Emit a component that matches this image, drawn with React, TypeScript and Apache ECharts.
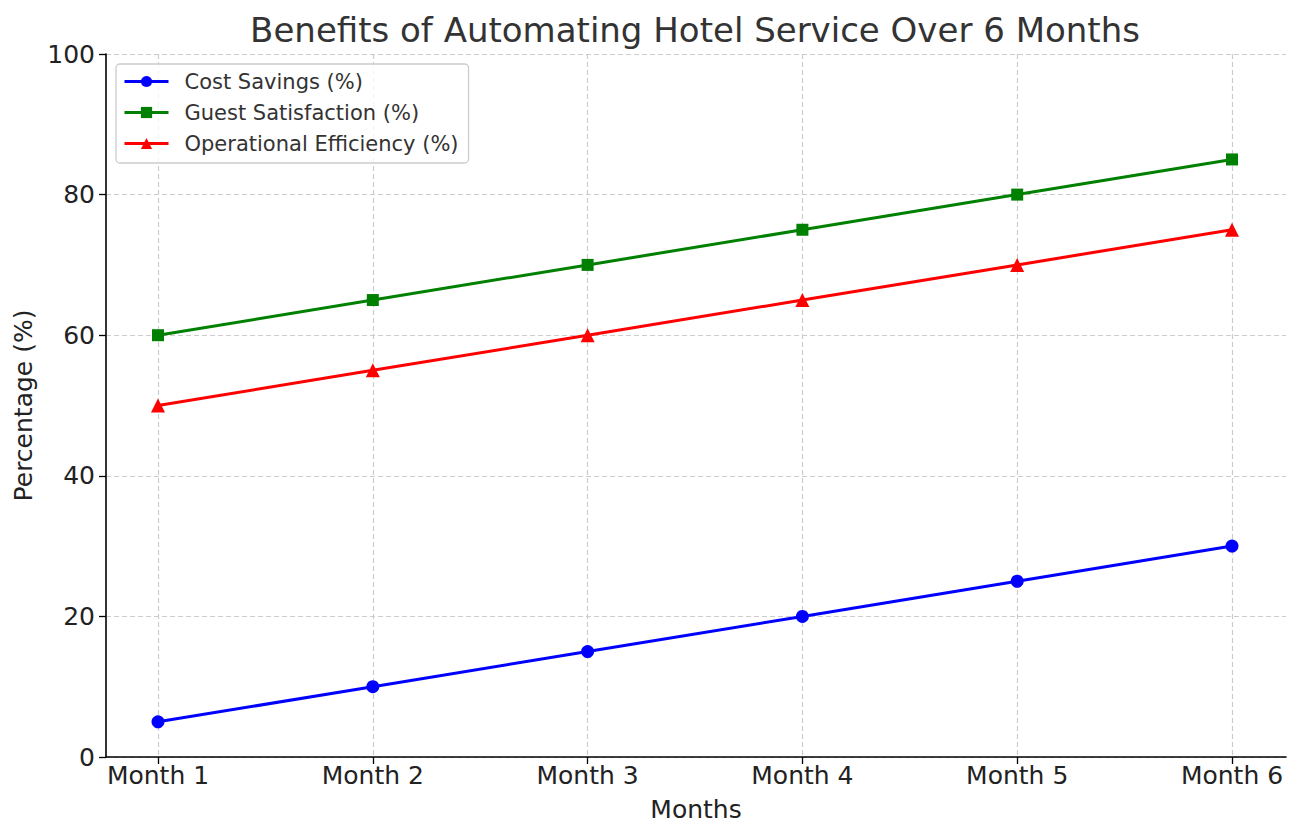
import React, { useEffect, useRef } from "react";
import * as echarts from "echarts";

const months = ["Month 1", "Month 2", "Month 3", "Month 4", "Month 5", "Month 6"];
const costSavings = [5, 10, 15, 20, 25, 30];
const guestSatisfaction = [60, 65, 70, 75, 80, 85];
const operationalEfficiency = [50, 55, 60, 65, 70, 75];

const FONT = "DejaVu Sans";

export default function App() {
  const ref = useRef<HTMLDivElement>(null);
  useEffect(() => {
    if (!ref.current) return;
    const chart = echarts.init(ref.current, undefined, { renderer: "svg" });
    const top = 54;
    const bottom = 838 - 757;
    chart.setOption({
      animation: false,
      backgroundColor: "#ffffff",
      textStyle: { fontFamily: FONT },
      title: {
        text: "Benefits of Automating Hotel Service Over 6 Months",
        left: 690,
        textAlign: "center",
        top: 8,
        textStyle: { fontFamily: FONT, fontSize: 34, fontWeight: "normal", color: "#333333" },
      },
      legend: {
        left: 116,
        top: 64,
        orient: "vertical",
        itemWidth: 44,
        itemHeight: 14,
        itemGap: 10,
        padding: [7, 10, 9, 7],
        backgroundColor: "rgba(255,255,255,0.8)",
        borderColor: "#cccccc",
        borderWidth: 1.3,
        borderRadius: 4,
        lineStyle: { width: 3 },
        textStyle: { fontFamily: FONT, fontSize: 21, color: "#333333", padding: [0, 0, 0, 11] },
        data: ["Cost Savings (%)", "Guest Satisfaction (%)", "Operational Efficiency (%)"],
      },
      grid: [
        { left: 106, right: 14, top, bottom, containLabel: false },
        { left: 158, right: 68, top, bottom, containLabel: false },
      ],
      xAxis: [
        {
          gridIndex: 0,
          type: "value",
          min: 0,
          max: 1,
          name: "Months",
          nameLocation: "middle",
          nameGap: 40,
          nameTextStyle: { fontFamily: FONT, fontSize: 25, color: "#222222" },
          axisLine: { show: true, onZero: false, lineStyle: { color: "#000000", width: 1.6 } },
          axisTick: { show: false },
          axisLabel: { show: false },
          splitLine: { show: false },
        },
        {
          gridIndex: 1,
          type: "category",
          data: months,
          boundaryGap: false,
          axisLine: { show: false },
          axisTick: { show: true, inside: false, length: 7, lineStyle: { color: "#000000", width: 1.3 } },
          axisLabel: { fontFamily: FONT, fontSize: 25, color: "#222222", margin: 6 },
          splitLine: { show: true, lineStyle: { color: "#cccccc", type: [5, 3], width: 1.2 } },
        },
      ],
      yAxis: [
        {
          gridIndex: 0,
          type: "value",
          min: 0,
          max: 100,
          interval: 20,
          name: "Percentage (%)",
          nameLocation: "middle",
          nameGap: 68,
          nameTextStyle: { fontFamily: FONT, fontSize: 25, color: "#222222" },
          axisLine: { show: true, lineStyle: { color: "#000000", width: 1.6 } },
          axisTick: { show: true, inside: false, length: 7, lineStyle: { color: "#000000", width: 1.3 } },
          axisLabel: { fontFamily: FONT, fontSize: 25, color: "#222222", margin: 11 },
          splitLine: { show: true, lineStyle: { color: "#cccccc", type: [5, 3], width: 1.2 } },
        },
        {
          gridIndex: 1,
          type: "value",
          min: 0,
          max: 100,
          show: false,
          splitLine: { show: false },
        },
      ],
      series: [
        {
          name: "Cost Savings (%)",
          type: "line",
          xAxisIndex: 1,
          yAxisIndex: 1,
          data: costSavings,
          color: "#0000ff",
          symbol: "circle",
          symbolSize: 13,
          lineStyle: { width: 3, color: "#0000ff" },
          itemStyle: { color: "#0000ff" },
        },
        {
          name: "Guest Satisfaction (%)",
          type: "line",
          xAxisIndex: 1,
          yAxisIndex: 1,
          data: guestSatisfaction,
          color: "#008000",
          symbol: "rect",
          symbolSize: 12,
          lineStyle: { width: 3, color: "#008000" },
          itemStyle: { color: "#008000" },
        },
        {
          name: "Operational Efficiency (%)",
          type: "line",
          xAxisIndex: 1,
          yAxisIndex: 1,
          data: operationalEfficiency,
          color: "#ff0000",
          symbol: "triangle",
          symbolSize: 14,
          lineStyle: { width: 3, color: "#ff0000" },
          itemStyle: { color: "#ff0000" },
        },
      ],
    });
    return () => chart.dispose();
  }, []);
  return <div ref={ref} style={{ position: "absolute", left: 0, top: 0, width: 1300, height: 838 }} />;
}
